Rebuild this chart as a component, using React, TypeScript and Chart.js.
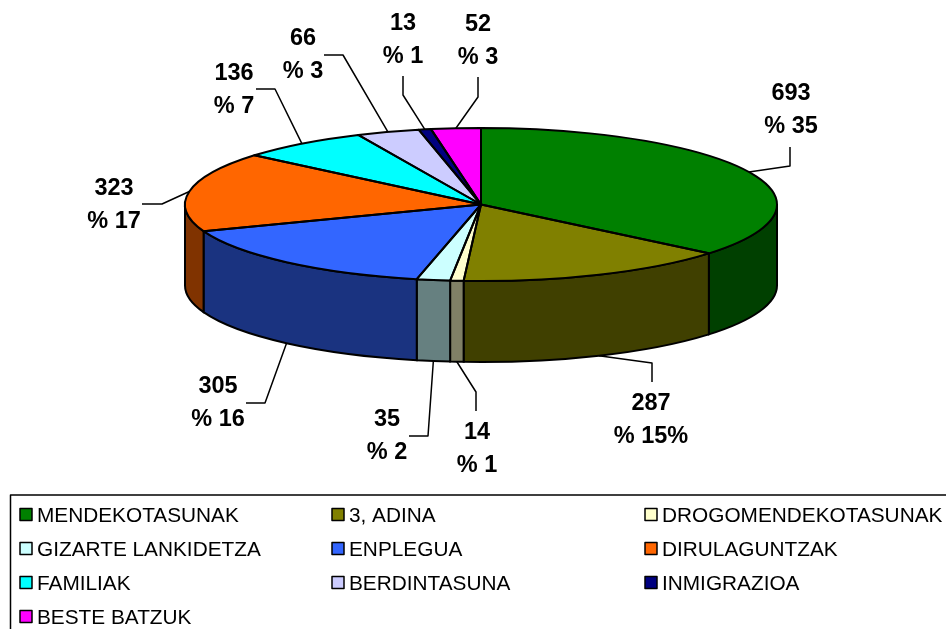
import React, { useEffect, useRef } from "react";
import { Chart, registerables } from "chart.js";

Chart.register(...registerables);

const categories = ["MENDEKOTASUNAK", "3, ADINA", "DROGOMENDEKOTASUNAK", "GIZARTE LANKIDETZA", "ENPLEGUA", "DIRULAGUNTZAK", "FAMILIAK", "BERDINTASUNA", "INMIGRAZIOA", "BESTE BATZUK"];
const values = [693, 287, 14, 35, 305, 323, 136, 66, 13, 52];
const percentLabels = ["% 35", "% 15%", "% 1", "% 2", "% 16", "% 17", "% 7", "% 3", "% 1", "% 3"];
const colors = ["#008000", "#808000", "#FFFFCC", "#CCFFFF", "#3366FF", "#FF6600", "#00FFFF", "#CCCCFF", "#000080", "#FF00FF"];
const wallColors = ["#004000", "#404000", "#808066", "#668080", "#1A3380", "#803300", "#008080", "#666680", "#000040", "#800080"];

// layout: label centre, leader elbow, leader end
const labelX = [791, 651, 477, 387, 218, 114, 234, 303, 403, 478];
const labelY = [94, 404, 433, 420, 387, 189, 74, 39, 24, 25];
const elbows = [[790, 166], [652, 363], [476, 392], [428, 436], [265, 403], [162, 204], [275, 89], [343, 55], [403, 95], [478, 97]];
const ends = [[790, 147], [652, 382], [476, 411], [409, 436], [246, 403], [142, 204], [256, 89], [324, 55], [403, 76], [478, 77]];

const CX = 481, CY = 204.5, RX = 296, RY = 76.5, DEPTH = 81;
const LEGEND_COLS = [20, 332, 645];
const LEGEND_ROWS = [514.5, 548.5, 582.5, 616.5];

const pie3d = {
  id: "pie3d",
  beforeDatasetsDraw(chart: any) {
    const ctx = chart.ctx;
    ctx.save();
    ctx.lineWidth = 2;
    ctx.strokeStyle = "#000";
    chart.getDatasetMeta(0).data.forEach((arc: any, i: number) => {
      const a = Math.max(arc.startAngle, 0);
      const b = Math.min(arc.endAngle, Math.PI);
      if (b <= a) return;
      ctx.beginPath();
      ctx.ellipse(CX, CY, RX, RY, 0, a, b);
      ctx.ellipse(CX, CY + DEPTH, RX, RY, 0, b, a, true);
      ctx.closePath();
      ctx.fillStyle = wallColors[i];
      ctx.fill();
      ctx.stroke();
    });
    ctx.restore();
  },
  beforeDatasetDraw(chart: any) {
    const ctx = chart.ctx;
    const arc = chart.getDatasetMeta(0).data[0];
    ctx.save();
    ctx.translate(CX, CY);
    ctx.scale(RX / arc.outerRadius, RY / arc.outerRadius);
    ctx.translate(-arc.x, -arc.y);
  },
  afterDatasetDraw(chart: any) {
    chart.ctx.restore();
  },
  afterDatasetsDraw(chart: any) {
    const ctx = chart.ctx;
    const arcs = chart.getDatasetMeta(0).data;
    ctx.save();
    ctx.strokeStyle = "#000";
    ctx.lineWidth = 2;
    ctx.lineJoin = "round";
    arcs.forEach((arc: any) => {
      ctx.beginPath();
      ctx.moveTo(CX, CY);
      ctx.ellipse(CX, CY, RX, RY, 0, arc.startAngle, arc.endAngle);
      ctx.closePath();
      ctx.stroke();
    });

    // leaders and labels
    ctx.textAlign = "center";
    ctx.textBaseline = "middle";
    arcs.forEach((arc: any, i: number) => {
      const mid = (arc.startAngle + arc.endAngle) / 2;
      const sx = CX + RX * Math.cos(mid);
      const sy = CY + RY * Math.sin(mid) + (Math.sin(mid) > 0 ? DEPTH : 0);
      ctx.beginPath();
      ctx.moveTo(sx, sy);
      ctx.lineTo(elbows[i][0], elbows[i][1]);
      ctx.lineTo(ends[i][0], ends[i][1]);
      ctx.lineWidth = 1.5;
      ctx.stroke();
      ctx.fillStyle = "#000";
      ctx.font = "bold 23.5px 'Liberation Sans'";
      ctx.fillText(String(values[i]), labelX[i], labelY[i]);
      ctx.fillText(percentLabels[i], labelX[i], labelY[i] + 32.5);
    });

    // legend
    ctx.beginPath();
    ctx.moveTo(10.5, 640);
    ctx.lineTo(10.5, 495);
    ctx.lineTo(960, 495);
    ctx.lineWidth = 1.5;
    ctx.stroke();
    ctx.textAlign = "left";
    ctx.font = "20.8px 'Liberation Sans'";
    categories.forEach((name, i) => {
      const x = LEGEND_COLS[i % 3];
      const y = LEGEND_ROWS[Math.floor(i / 3)];
      ctx.fillStyle = colors[i];
      ctx.fillRect(x, y - 6, 12, 12);
      ctx.strokeRect(x, y - 6, 12, 12);
      ctx.fillStyle = "#000";
      ctx.fillText(name, x + 17, y + 1.5);
    });
    ctx.restore();
  },
};

export default function App() {
  const ref = useRef<HTMLCanvasElement>(null);
  useEffect(() => {
    const chart = new Chart(ref.current!, {
      type: "pie",
      data: {
        labels: categories,
        datasets: [{ data: values, backgroundColor: colors, borderWidth: 0, clip: false } as any],
      },
      options: {
        animation: false,
        responsive: false,
        events: [],
        plugins: { legend: { display: false }, tooltip: { enabled: false } },
      },
      plugins: [pie3d],
    } as any);
    return () => chart.destroy();
  }, []);
  return (
    <canvas
      ref={ref}
      width={946}
      height={629}
      style={{ position: "absolute", left: 0, top: 0, width: 946, height: 629 }}
    />
  );
}
